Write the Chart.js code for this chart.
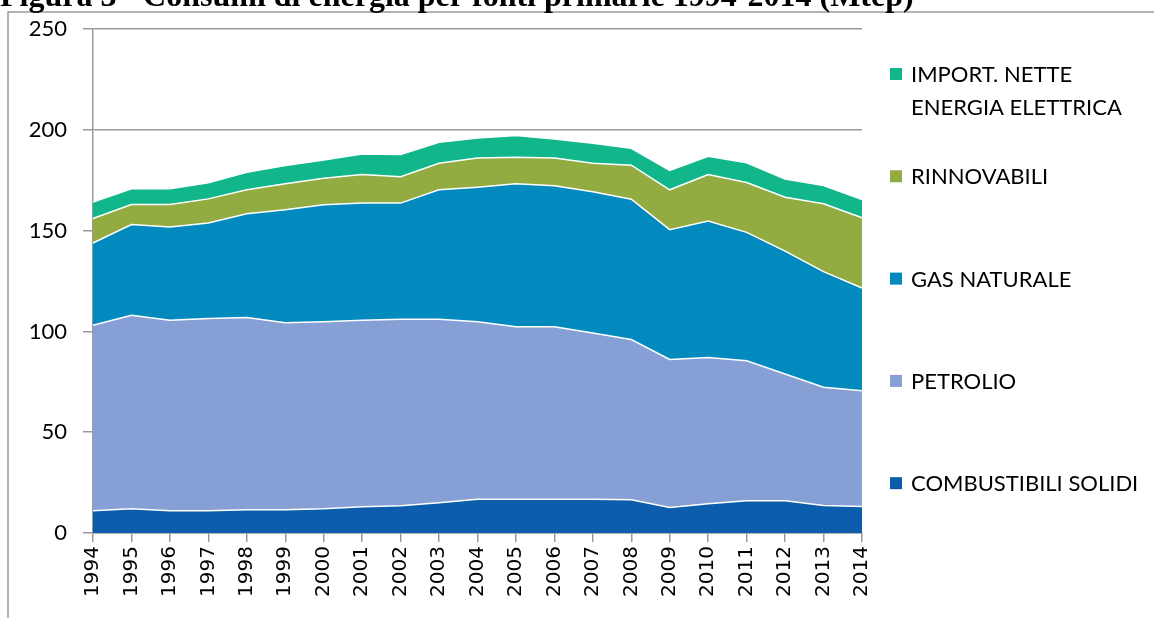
<!DOCTYPE html>
<html>
<head>
<meta charset="utf-8">
<script src="https://cdn.jsdelivr.net/npm/chart.js@4/dist/chart.umd.min.js"></script>
<style>
  html, body { margin: 0; padding: 0; background: #fff; }
  #wrap { width: 1154px; height: 618px; position: relative; }
</style>
</head>
<body>
<div id="wrap"><canvas id="chart" width="1154" height="618"></canvas></div>
<script>
const years = ['1994','1995','1996','1997','1998','1999','2000','2001','2002','2003','2004',
               '2005','2006','2007','2008','2009','2010','2011','2012','2013','2014']

// Mtep per fonte
const solidi     = [11.0,12.0,11.0,11.0,11.5,11.5,12.0,13.0,13.5,15.0,16.8,16.8,16.8,16.8,16.5,12.7,14.5,16.0,16.0,13.7,13.2]
const petrolio   = [92.1,96.1,94.6,95.4,95.4,92.8,92.8,92.6,92.6,91.1,88.0,85.5,85.5,82.5,79.5,73.4,72.6,69.5,62.9,58.6,57.4]
const gas        = [40.8,45.0,46.2,47.4,51.5,56.1,58.1,58.1,57.6,64.2,66.8,71.0,70.0,70.0,69.6,64.4,67.7,63.7,61.0,57.4,51.0]
const rinnovabili= [12.2,9.9,11.2,12.0,11.9,12.9,13.1,14.2,13.1,13.2,14.5,13.1,13.8,14.2,16.9,19.8,23.1,24.7,26.7,33.7,34.8]
const importEE   = [8.1,7.8,7.8,8.0,8.7,9.0,9.1,10.2,11.0,10.4,9.9,10.8,9.4,9.9,8.4,9.6,9.0,9.8,9.1,9.0,9.1]

const yTicks = [0, 50, 100, 150, 200, 250]
const title = 'Figura 3 - Consumi di energia per fonti primarie 1994-2014 (Mtep)'

function area(label, data, color, fill){
    return {
        label: label,
        data: data,
        backgroundColor: color,
        borderColor: '#ffffff',
        borderWidth: 1.5,
        pointRadius: 0,
        tension: 0,
        fill: fill
    }
}

// titolo + cornice + legenda disegnati a mano
const extras = {
    id: 'extras',
    beforeDraw(chart){
        const ctx = chart.ctx
        ctx.save()
        ctx.fillStyle = '#fff'
        ctx.fillRect(0, 0, chart.width, chart.height)
        ctx.strokeStyle = '#9a9a9a'
        ctx.lineWidth = 1.5
        ctx.strokeRect(8, 12, 2000, 2000)
        ctx.fillStyle = '#000'
        ctx.font = 'bold 32px "Liberation Serif"'
        ctx.textBaseline = 'alphabetic'
        ctx.fillText(title, 0, 6)
        ctx.restore()
    },
    afterDraw(chart){
        const ctx = chart.ctx
        const ds = chart.data.datasets.slice().reverse()
        ctx.save()
        ctx.font = '22px Lato'
        ctx.textBaseline = 'middle'
        ds.forEach((d, i) => {
            const y = 74 + i*102.3
            ctx.fillStyle = d.backgroundColor
            ctx.fillRect(890, y-6, 12, 12)
            ctx.fillStyle = '#000'
            const lines = Array.isArray(d.label) ? d.label : [d.label]
            lines.forEach((t, j) => ctx.fillText(t, 911, y + 1 + j*33))
        })
        ctx.restore()
    }
}

new Chart(document.getElementById('chart'), {
    type: 'line',
    data: {
        labels: years,
        datasets: [
            area('COMBUSTIBILI SOLIDI', solidi, '#0c5dab', 'origin'),
            area('PETROLIO', petrolio, '#86a0d5', '-1'),
            area('GAS NATURALE', gas, '#028abf', '-1'),
            area('RINNOVABILI', rinnovabili, '#93ac42', '-1'),
            area(['IMPORT. NETTE','ENERGIA ELETTRICA'], importEE, '#11b78a', '-1')
        ]
    },
    options: {
        responsive: false,
        animation: false,
        layout: { padding: { left: 8, right: 292, top: 28, bottom: 0 } },
        plugins: { legend: { display: false }, tooltip: { enabled: false } },
        scales: {
            x: {
                offset: false,
                grid: { drawOnChartArea: false, color: '#9a9a9a', lineWidth: 1.5, tickLength: 9 },
                border: { color: '#9a9a9a', width: 1.5 },
                ticks: {
                    color: '#000', minRotation: 90, maxRotation: 90, autoSkip: false,
                    font: { family: 'DejaVu Sans', size: 20 }, padding: 4
                },
                afterFit(s){ s.height = 85 }
            },
            y: {
                stacked: true,
                min: 0, max: 250,
                grid: { color: '#9a9a9a', lineWidth: 1.5, tickLength: 10 },
                border: { color: '#9a9a9a', width: 1.5 },
                afterBuildTicks(s){ s.ticks = yTicks.map(v => ({ value: v })) },
                ticks: { color: '#000', font: { family: 'Lato', size: 22 }, padding: 16 },
                afterFit(s){ s.width = 85 }
            }
        }
    },
    plugins: [extras]
})
</script>
</body>
</html>
